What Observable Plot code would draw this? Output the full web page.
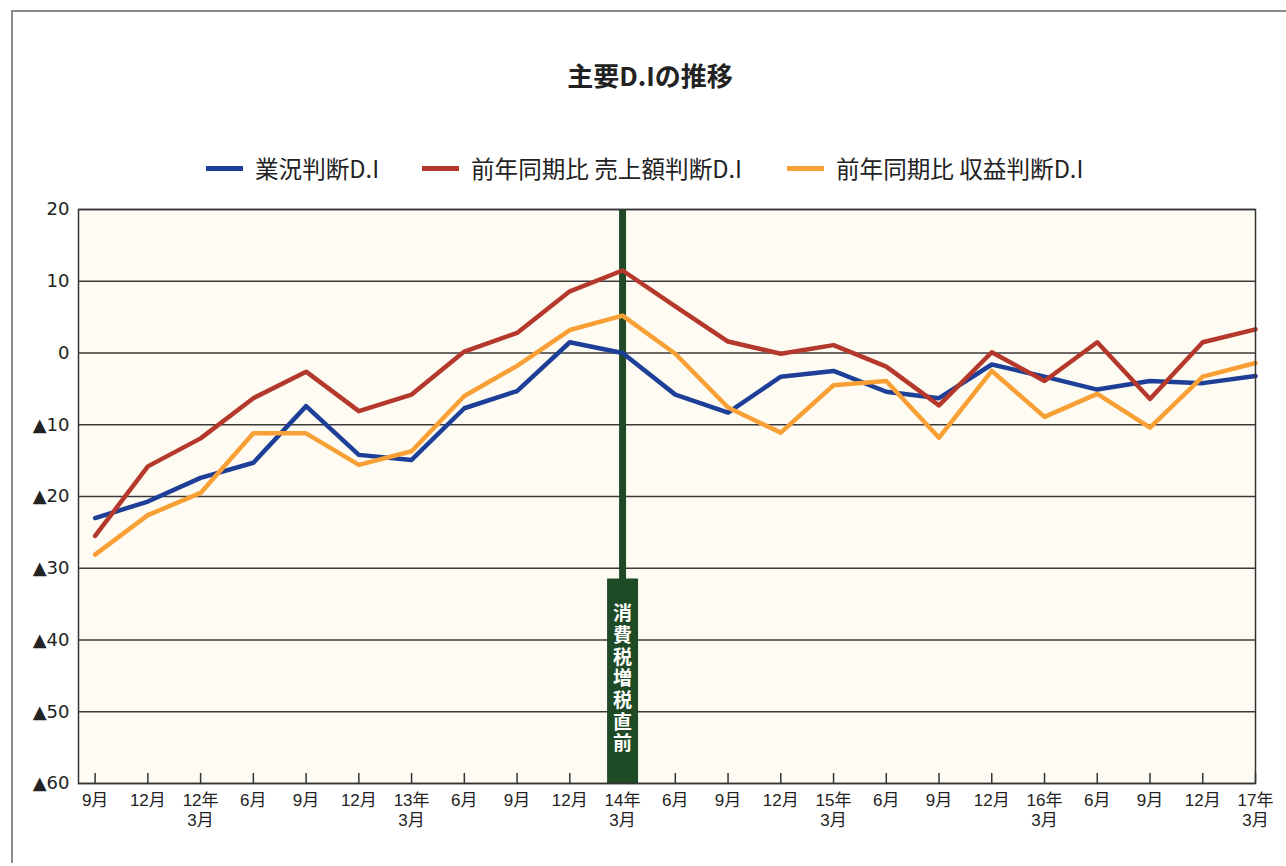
<!DOCTYPE html>
<html>
<head>
<meta charset="utf-8">
<script src="https://cdn.jsdelivr.net/npm/d3@7"></script>
<script src="https://cdn.jsdelivr.net/npm/@observablehq/plot@0.6"></script>
<style>
  html, body { margin: 0; padding: 0; background: #ffffff; }
  body { width: 1286px; height: 866px; overflow: hidden; font-family: "Noto Sans CJK JP", "Noto Sans", sans-serif; color: #222; }
  #page { position: relative; width: 1286px; height: 866px; }
  #border { position: absolute; left: 11px; top: 10px; right: -2px; bottom: 3px; border-top: 2px solid #8a8a8a; border-left: 2px solid #8a8a8a; }
  #title { position: absolute; left: 0; width: 1300px; top: 56px; text-align: center; font-size: 26px; font-weight: 700; color: #222; }
  .lg { position: absolute; top: 151px; font-size: 23.6px; display: flex; align-items: center; white-space: nowrap; }
  .lg span.sw { display: inline-block; width: 37px; height: 5px; margin-right: 12px; }
  #chart { position: absolute; left: 0; top: 190px; }
</style>
</head>
<body>
<div id="page">
  <div id="border"></div>
  <div id="title">主要D.Iの推移</div>
  <div id="legend"></div>
  <div id="chart"></div>
</div>
<script>
// Quarter labels (Sep 2011 – Mar 2017)
const periods = ["9月","12月","12年\n3月","6月","9月","12月","13年\n3月","6月","9月","12月","14年\n3月","6月","9月","12月","15年\n3月","6月","9月","12月","16年\n3月","6月","9月","12月","17年\n3月"];

const seriesNames = ["業況判断D.I", "前年同期比 売上額判断D.I", "前年同期比 収益判断D.I"];
const seriesColors = ["#1d3f98", "#b5382c", "#f8a035"];

// 業況判断D.I
const businessDI = [-23.0,-20.7,-17.4,-15.3,-7.4,-14.2,-14.9,-7.7,-5.3,1.5,0.0,-5.8,-8.3,-3.3,-2.5,-5.4,-6.3,-1.6,-3.3,-5.1,-3.9,-4.2,-3.2];
// 前年同期比 売上額判断D.I
const salesDI = [-25.5,-15.8,-11.9,-6.3,-2.6,-8.1,-5.8,0.2,2.8,8.6,11.5,6.5,1.6,-0.1,1.1,-1.9,-7.3,0.1,-3.9,1.5,-6.4,1.5,3.3];
// 前年同期比 収益判断D.I
const profitDI = [-28.1,-22.6,-19.5,-11.2,-11.2,-15.6,-13.7,-6.0,-1.8,3.2,5.2,-0.1,-7.6,-11.1,-4.5,-3.9,-11.8,-2.5,-8.9,-5.7,-10.4,-3.3,-1.4];

const yTicks = [20, 10, 0, -10, -20, -30, -40, -50, -60];

// Consumption-tax hike marker
const taxIndex = 10;
const taxLabel = "消費税増税直前";
const taxBoxTop = -31.5;

const rows = [];
[businessDI, salesDI, profitDI].forEach((vals, s) => {
  vals.forEach((v, i) => rows.push({ i, v, series: seriesNames[s] }));
});

// Legend
const legendPos = [206, 422, 787];
const legend = document.getElementById("legend");
seriesNames.forEach((name, k) => {
  const d = document.createElement("div");
  d.className = "lg";
  d.style.left = legendPos[k] + "px";
  d.innerHTML = `<span class="sw" style="background:${seriesColors[k]}"></span>${name}`;
  legend.appendChild(d);
});

const tickIdx = periods.map((_, i) => i);
const axisFont = "'Liberation Sans', 'Noto Sans CJK JP', sans-serif";

const chart = Plot.plot({
  width: 1286,
  height: 676,
  marginLeft: 78,
  marginRight: 31,
  marginTop: 19,
  marginBottom: 83,
  style: { fontFamily: axisFont, color: "#222", background: "transparent" },
  x: { type: "linear", domain: [-0.315, periods.length - 1], label: null },
  y: { domain: [-60, 20], label: null },
  color: { domain: seriesNames, range: seriesColors },
  marks: [
    Plot.frame({ fill: "#fefcf2" }),
    Plot.ruleY(yTicks, { stroke: "#3a3a3a", strokeWidth: 1.4 }),
    Plot.ruleX(tickIdx, { y1: -60, y2: -58.6, stroke: "#333", strokeWidth: 1.5 }),
    Plot.axisY({ ticks: yTicks, tickSize: 0, tickPadding: 9, fontSize: 18, label: null,
      fontFamily: "'DejaVu Sans', sans-serif",
      tickFormat: d => d < 0 ? "▲" + Math.abs(d) : String(d) }),
    Plot.axisX({ ticks: tickIdx, tickSize: 0, tickPadding: 8, fontSize: 17, lineHeight: 1.2, label: null,
      tickFormat: i => periods[i] }),
    Plot.ruleX([taxIndex], { y1: -60, y2: 20, stroke: "#1f4a26", strokeWidth: 7 }),
    Plot.ruleX([taxIndex], { y1: -60, y2: taxBoxTop, stroke: "#1f4a26", strokeWidth: 31 }),
    Plot.text([taxIndex], { x: d => d, y: (taxBoxTop - 60) / 2 + 1.1,
      text: () => taxLabel, fill: "white", fontSize: 19, fontWeight: 700,
      fontFamily: "'Noto Sans CJK JP', sans-serif" }),
    Plot.line(rows, { x: "i", y: "v", z: "series", stroke: "series", strokeWidth: 4.5, strokeLinejoin: "round", strokeLinecap: "round" }),
    Plot.frame({ stroke: "#333", strokeWidth: 1.5 })
  ]
});

// Set the marker caption in vertical (top-to-bottom) writing mode
d3.select(chart).selectAll('g[aria-label="text"] text')
  .attr("dy", null)
  .attr("writing-mode", "vertical-rl")
  .attr("text-anchor", "middle")
  .style("text-orientation", "upright")
  .style("letter-spacing", "2.7px");

document.getElementById("chart").appendChild(chart);
</script>
</body>
</html>
